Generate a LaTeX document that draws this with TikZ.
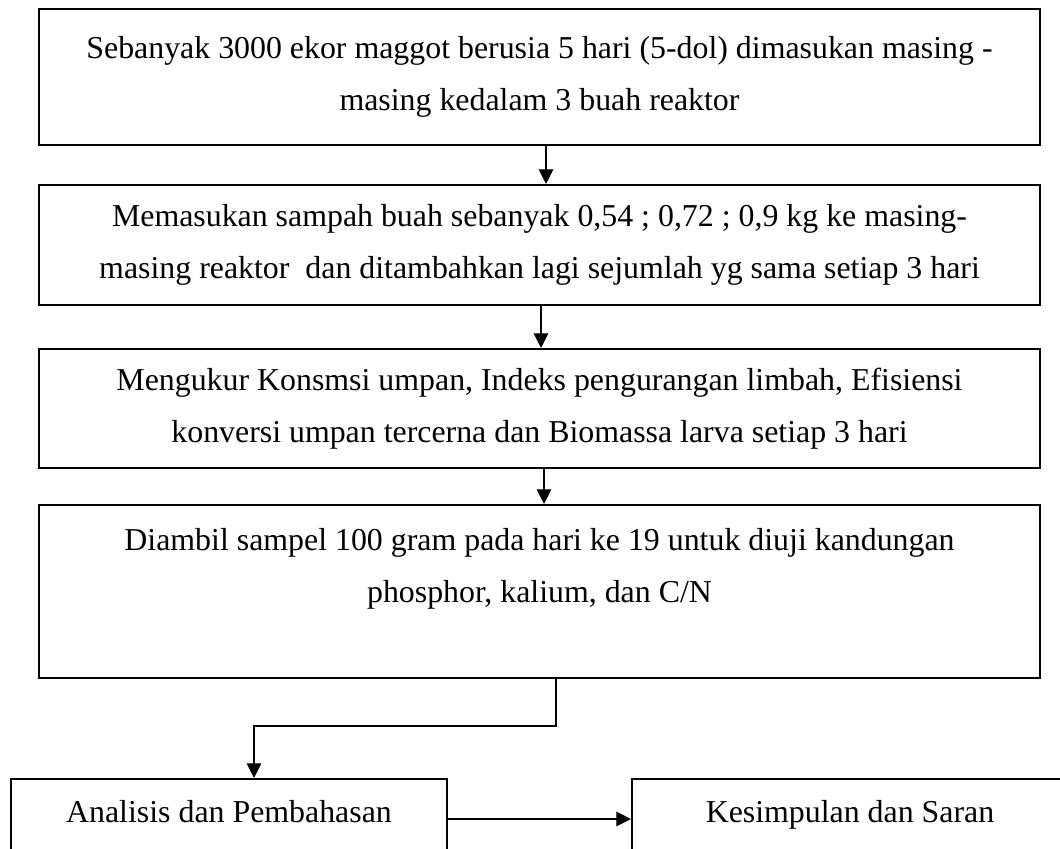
\documentclass[tikz,border=0pt]{standalone}
\usepackage{fontspec}
\setmainfont{Liberation Serif}
\usetikzlibrary{arrows.meta,calc}

\begin{document}
\begin{tikzpicture}[x=0.75pt,y=-0.75pt,
    kotak/.style={draw,line width=1.6pt,inner sep=0pt,minimum width=750.75pt},
    kotakkecil/.style={draw,line width=1.6pt,inner sep=0pt,minimum width=327pt,minimum height=105pt},
    teks/.style={align=center,inner sep=0pt,font=\fontsize{23.9}{39}\selectfont},
    panah/.style={-{Triangle[length=11pt,width=11pt]},line width=0.9pt}]
          \useasboundingbox (0,0) rectangle (1060,849);
          \clip (0,0) rectangle (1060,849);
          % Alur penelitian
          \node[kotak,teks,minimum height=102pt] (tahap1) at (539.5,77)
               {Sebanyak 3000 ekor maggot berusia 5 hari (5-dol) dimasukan masing -\\
                masing kedalam 3 buah reaktor};
          \node[kotak,teks,minimum height=90pt] (tahap2) at (539.5,245)
               {Memasukan sampah buah sebanyak 0,54 ; 0,72 ; 0,9 kg ke masing-\\
                masing reaktor~ dan ditambahkan lagi sejumlah yg sama setiap 3 hari};
          \node[kotak,teks,minimum height=89.25pt] (tahap3) at (539.5,408.5)
               {Mengukur Konsmsi umpan, Indeks pengurangan limbah, Efisiensi\\
                konversi umpan tercerna dan Biomassa larva setiap 3 hari};
          \node[kotak,minimum height=129.75pt] (tahap4) at (539.5,591.5) {};
          \node[teks] (tahap4teks) at (539.5,569)
               {Diambil sampel 100 gram pada hari ke 19 untuk diuji kandungan\\
                phosphor, kalium, dan C/N};
          % Analisis dan kesimpulan
          \node[kotakkecil] (analisis) at (229,849) {};
          \node[teks,anchor=base] (analisisteks) at (229,822) {Analisis dan Pembahasan};
          \node[kotakkecil] (simpulan) at (850,849) {};
          \node[teks,anchor=base] (simpulanteks) at (850,822) {Kesimpulan dan Saran};

          % Panah
          \draw[panah] ($(tahap1.south)+(6.5,0)$) -- ($(tahap2.north)+(6.5,0)$);
          \draw[panah] ($(tahap2.south)+(1.5,0)$) -- ($(tahap3.north)+(1.5,0)$);
          \draw[panah] ($(tahap3.south)+(4.5,0)$) -- ($(tahap4.north)+(4.5,0)$);
          \draw[panah] ($(tahap4.south)+(16.5,0)$) -- ++(0,47) -| ($(analisis.north)+(25,0)$);
          \draw[panah] ($(analisis.east)+(0,-30)$) -- ($(simpulan.west)+(0,-30)$);
        \end{tikzpicture}
\end{document}
